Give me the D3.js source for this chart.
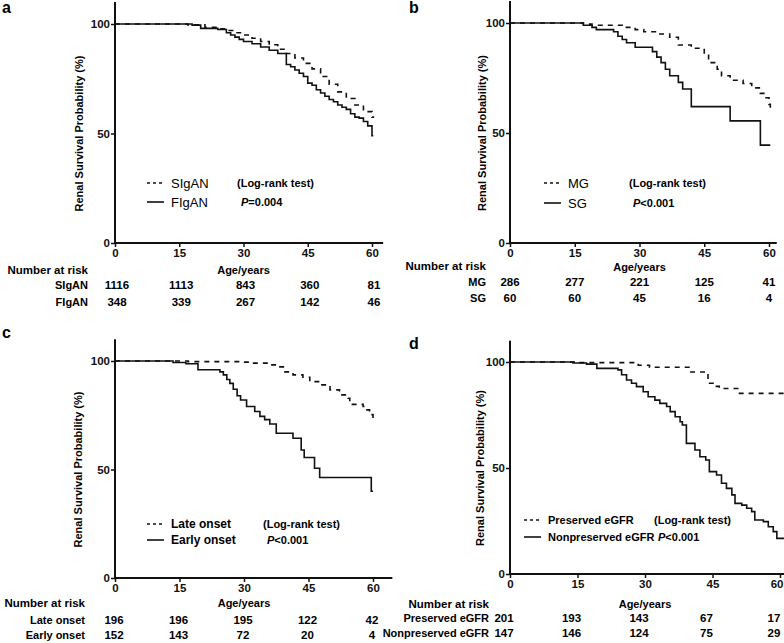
<!DOCTYPE html>
<html>
<head>
<meta charset="utf-8">
<script src="https://cdn.jsdelivr.net/npm/d3@7"></script>
<style>
  body { margin: 0; background: #fff; }
  svg { font-family: Arial, "Liberation Sans", sans-serif; }
  .tick text { font-weight: bold; font-size: 11.5px; fill: #111; }
  .bold { font-weight: bold; }
</style>
</head>
<body>
<svg id="chart" width="784" height="643"></svg>
<script>
// ages shown on the x axis, and at-risk table columns
var ageTicks = [0, 15, 30, 45, 60];
var pctTicks = [0, 50, 100];

// panel a
var sIgAN = [[0,100],[17,99.6],[21,98.5],[24,97.8],[26,97],[28,96],[30,95],[32,93.5],[34,92],[36,90.5],[38,88.5],[40,86.5],[42,84.5],[44,82],[46,79.5],[48,76],[50,72.5],[52,69],[54,66],[56,63],[58,60],[60,57.5]];
var fIgAN = [[0,100],[18,99.5],[20,98],[24,97.5],[26,96],[27,95],[28,94],[29,93],[30,92],[32,91],[34,89.5],[36,88],[38,86.5],[40,81.5],[41,80.5],[42,79],[43,77.5],[44,76],[45,73],[46,72],[47,70],[48,68.5],[49,67],[50,65.5],[51,64.5],[52,63],[53,62],[54,61],[55,59],[56,57.5],[57,57],[58,55.5],[59,53.5],[60,49]];
var riskA = [[1116, 1113, 843, 360, 81], [348, 339, 267, 142, 46]];

// panel b
var mg = [[0,100],[17,99.5],[19,99],[26,98],[29,97],[31,96],[34,95],[37,93.5],[39,90],[42,88.5],[45,86],[46,82],[48,79],[49,76],[51,74],[54,72.5],[56,70.5],[58,68],[59,66],[60,63],[60.3,60.5]];
var sg = [[0,100],[17,99],[19,98],[20,97],[24,96],[25,94],[26,92.5],[27,91],[29,89],[33,87],[34,84.5],[35,82],[36,79],[37,76],[39,73],[40,70],[42,62],[51,55.5],[58,44.5]];
var riskB = [[286, 277, 221, 125, 41], [60, 60, 45, 16, 4]];

// panel c
var lateOnset = [[0,100],[17,99.7],[29,99.5],[32,99],[36,98.2],[38,97.3],[39.5,95],[41.4,93.6],[43.7,92.5],[45.3,90.5],[47.6,89],[50,86.7],[52.2,84.4],[54.2,82.8],[54.6,80],[57.7,79],[58.4,77.5],[59.2,75.3],[60,73.6]];
var earlyOnset = [[0,100],[13.5,99.3],[16.5,98.7],[19.3,96],[24.4,95],[25.2,93.6],[26,91.5],[26.7,89.7],[27.5,87],[28.4,84],[29.2,82],[30.6,79],[32.5,76.7],[33.7,74.5],[34.8,73],[36,71],[37.5,66.7],[41.4,64.4],[43.3,59],[44,55.5],[46.4,50.6],[47.6,46.3],[59.6,40]];
var riskC = [[196, 196, 195, 122, 42], [152, 143, 72, 20, 4]];

// panel d
var preserved = [[0,100],[15,99.7],[28.5,98.5],[31,97.5],[40,95.3],[44,90],[45.5,88.5],[46.5,87.5],[51,85.2]];
var nonpreserved = [[0,100],[14,99.5],[17,99],[19.3,97],[24,96.3],[24.8,94],[25.9,91.5],[27,90],[28.1,88.4],[29.6,86],[30.7,83.6],[32.2,82],[33.3,80.5],[34.8,79],[35.6,76.6],[36.7,74.2],[37.8,71.8],[38.3,70.3],[39.2,61.6],[41.1,58.5],[42.2,55.3],[43.5,53.8],[44.3,48.3],[45.9,46.7],[47,42.8],[48.1,40.4],[49.3,37.3],[50,33.3],[51.5,32.5],[52.6,31],[53.7,29.4],[54.4,25.5],[56.3,24.7],[57.4,22.3],[58.5,20],[59.3,16.8]];
var riskD = [[201, 193, 143, 67, 17], [147, 146, 124, 75, 29]];

var panels = [
  {letter: "a", lx: 2, ly: 13, x0: 115, x60: 372, y0: 243, y100: 24, xMax: 62.6, titleOff: 32, colShift: 2,
   names: ["SIgAN", "FIgAN"], curves: [sIgAN, fIgAN], ends: [60.5, 60.3], risk: riskA, p: "=0.004",
   leg: {x: 147, y: 183, dy: 19, tx: 237, fs: 13, fw: "normal"}, rowX: 88, rowY: [270, 285, 302], ageY: 270},
  {letter: "b", lx: 409, ly: 13, x0: 510, x60: 769, y0: 243, y100: 23, xMax: 61.8, titleOff: 24, colShift: 0,
   names: ["MG", "SG"], curves: [mg, sg], ends: [60.3, 60.3], risk: riskB, p: "<0.001",
   leg: {x: 544, y: 183, dy: 20, tx: 629, fs: 13, fw: "normal"}, rowX: 486, rowY: [266, 282, 298], ageY: 267},
  {letter: "c", lx: 2, ly: 338, x0: 115, x60: 373, y0: 578, y100: 361, xMax: 64.5, titleOff: 33, colShift: -1,
   names: ["Late onset", "Early onset"], curves: [lateOnset, earlyOnset], ends: [60.3, 60], risk: riskC, p: "<0.001",
   leg: {x: 147, y: 524, dy: 16, tx: 263, fs: 12, fw: "bold"}, rowX: 85, rowY: [603, 620, 635], ageY: 603},
  {letter: "d", lx: 409, ly: 349, x0: 510, x60: 780, y0: 574, y100: 362, xMax: 62, titleOff: 26, colShift: -6,
   names: ["Preserved eGFR", "Nonpreserved eGFR"], curves: [preserved, nonpreserved], ends: [61, 61], risk: riskD, p: "<0.001",
   leg: {x: 524, y: 520, dy: 17, tx: 654, fs: 11, fw: "bold"}, rowX: 489, rowY: [604, 618, 633], ageY: 604}
];

var svg = d3.select("#chart");

function drawPanel(cfg) {
  var x = d3.scaleLinear().domain([0, 60]).range([cfg.x0, cfg.x60]);
  var y = d3.scaleLinear().domain([0, 100]).range([cfg.y0, cfg.y100]);
  var g = svg.append("g");

  g.append("text").attr("x", cfg.lx).attr("y", cfg.ly)
    .attr("class", "bold").style("font-size", "16px").text(cfg.letter);

  // axes
  var xAxis = d3.axisBottom(x).tickValues(ageTicks).tickSize(4).tickPadding(2);
  var yAxis = d3.axisLeft(y).tickValues(pctTicks).tickSize(4).tickPadding(1);
  var xa = g.append("g").attr("transform", "translate(0," + cfg.y0 + ")").call(xAxis);
  var ya = g.append("g").attr("transform", "translate(" + cfg.x0 + ",0)").call(yAxis);
  xa.select(".domain").attr("d", "M" + x(0) + ",0H" + x(cfg.xMax));
  ya.select(".domain").attr("d", "M0," + y(0) + "V" + y(110));
  g.selectAll(".domain").attr("stroke", "#111").attr("stroke-width", 2);
  g.selectAll(".tick line").attr("stroke", "#111").attr("stroke-width", 1.5);
  // keep the last age label inside the page
  xa.selectAll(".tick text").filter(function (d) { return x(d) + 8 > 784; })
    .attr("text-anchor", "end").attr("dx", 3);

  g.append("text")
    .attr("transform", "translate(" + (cfg.x0 - cfg.titleOff) + "," + y(50) + ") rotate(-90)")
    .attr("text-anchor", "middle").attr("class", "bold").style("font-size", "11px")
    .text("Renal Survival Probability (%)");

  // survival curves
  var line = d3.line().x(function (d) { return x(d[0]); }).y(function (d) { return y(d[1]); })
    .curve(d3.curveStepAfter);
  cfg.curves.forEach(function (c, i) {
    var pts = c.concat([[cfg.ends[i], c[c.length - 1][1]]]);
    g.append("path").datum(pts).attr("d", line)
      .attr("fill", "none").attr("stroke", "#111").attr("stroke-width", 1.6)
      .attr("stroke-dasharray", i == 0 ? "5,5" : null);
  });

  // legend
  var L = cfg.leg;
  cfg.names.forEach(function (n, i) {
    var yy = L.y + i * L.dy;
    g.append("line").attr("x1", L.x).attr("x2", L.x + 17).attr("y1", yy).attr("y2", yy)
      .attr("stroke", "#111").attr("stroke-width", 1.6).attr("stroke-dasharray", i == 0 ? "3,3" : null);
    g.append("text").attr("x", L.x + 24).attr("y", yy).attr("dy", "0.35em")
      .style("font-size", L.fs + "px").style("font-weight", L.fw).text(n);
  });
  g.append("text").attr("x", L.tx).attr("y", L.y).attr("dy", "0.35em")
    .attr("class", "bold").style("font-size", "11px").text("(Log-rank test)");
  var pt = g.append("text").attr("x", L.tx + 4).attr("y", L.y + L.dy).attr("dy", "0.35em")
    .attr("class", "bold").style("font-size", "11px");
  pt.append("tspan").style("font-style", "italic").text("P");
  pt.append("tspan").text(cfg.p);

  // number at risk table
  g.append("text").attr("x", cfg.rowX).attr("y", cfg.rowY[0]).attr("dy", "0.35em")
    .attr("text-anchor", "end").attr("class", "bold").style("font-size", "11.5px").text("Number at risk");
  g.append("text").attr("x", x(30)).attr("y", cfg.ageY).attr("dy", "0.35em")
    .attr("text-anchor", "middle").attr("class", "bold").style("font-size", "11px").text("Age/years");
  cfg.risk.forEach(function (row, r) {
    var yy = cfg.rowY[r + 1];
    g.append("text").attr("x", cfg.rowX).attr("y", yy).attr("dy", "0.35em")
      .attr("text-anchor", "end").attr("class", "bold").style("font-size", "11px").text(cfg.names[r]);
    g.selectAll(null).data(row).enter().append("text")
      .attr("x", function (d, i) { return x(ageTicks[i]) + cfg.colShift; })
      .attr("y", yy).attr("dy", "0.35em").attr("text-anchor", "middle")
      .attr("class", "bold").style("font-size", "11.5px")
      .text(function (d) { return d; });
  });
}

panels.forEach(drawPanel);
</script>
</body>
</html>
